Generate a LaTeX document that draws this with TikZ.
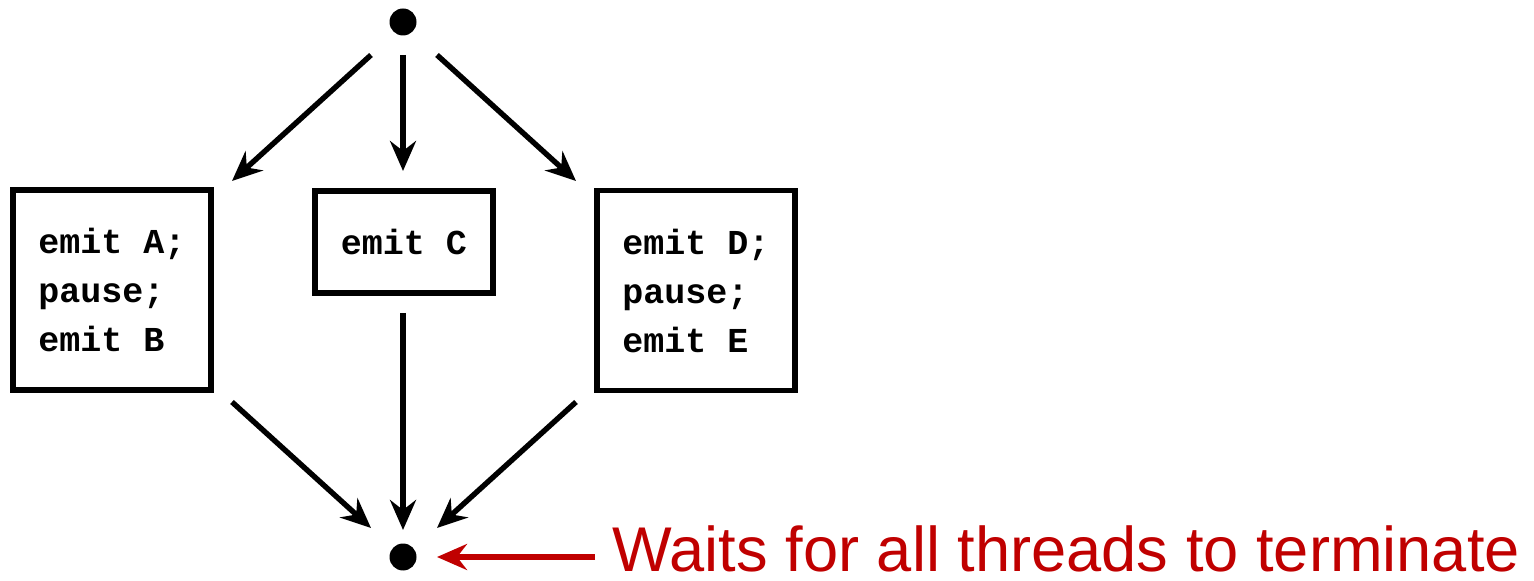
\documentclass[tikz,border=0pt]{standalone}
\usepackage{fontspec}
\setmainfont{Liberation Sans}
\newfontfamily\codefont{Liberation Mono}
\usetikzlibrary{arrows.meta}
\definecolor{wred}{RGB}{192,0,0}
\begin{document}
\begin{tikzpicture}[x=0.5pt,y=-0.5pt,
  arr/.style={line width=2.7pt,-{Stealth[length=15pt,width=13pt,inset=5pt]}},
  codebox/.style={draw,line width=2.8pt,inner sep=0pt,align=left,
    font={\codefont\bfseries\fontsize{17.5}{24.5}\selectfont}},
  dot/.style={circle,fill,inner sep=0pt,minimum size=13.5pt}]
\useasboundingbox (0,0) rectangle (1534,581);
\node[dot] (top) at (403,22) {};
\node[dot] (bot) at (403,557) {};
\node[codebox,minimum width=99pt,minimum height=100pt] (b1) at (112,290) {emit A;\\pause;\\emit B};
\node[codebox,minimum width=88.75pt,minimum height=51pt] (b2) at (404,242) {emit C};
\node[codebox,minimum width=99pt,minimum height=100pt] (b3) at (696,290.5) {emit D;\\pause;\\emit E};
\coordinate (t1) at (371,55); \coordinate (h1) at (232,181);
\coordinate (t2) at (403,55); \coordinate (h2) at (403,171);
\coordinate (t3) at (437,55); \coordinate (h3) at (576,181);
\coordinate (s1) at (232,402); \coordinate (e1) at (371,528);
\coordinate (s2) at (403,313); \coordinate (e2) at (403,530);
\coordinate (s3) at (576,402); \coordinate (e3) at (437,528);
\draw[arr] (t1) -- (h1);
\draw[arr] (t2) -- (h2);
\draw[arr] (t3) -- (h3);
\draw[arr] (s1) -- (e1);
\draw[arr] (s2) -- (e2);
\draw[arr] (s3) -- (e3);
\node[wred,anchor=base west,inner sep=0pt,font=\fontsize{31.6}{36}\selectfont] (lbl) at (612,571) {Waits for all threads to terminate};
\coordinate (rt) at (437,557);
\draw[arr,wred] (lbl.west |- rt) ++(-17,0) coordinate (rs) -- (rt);
\end{tikzpicture}
\end{document}
